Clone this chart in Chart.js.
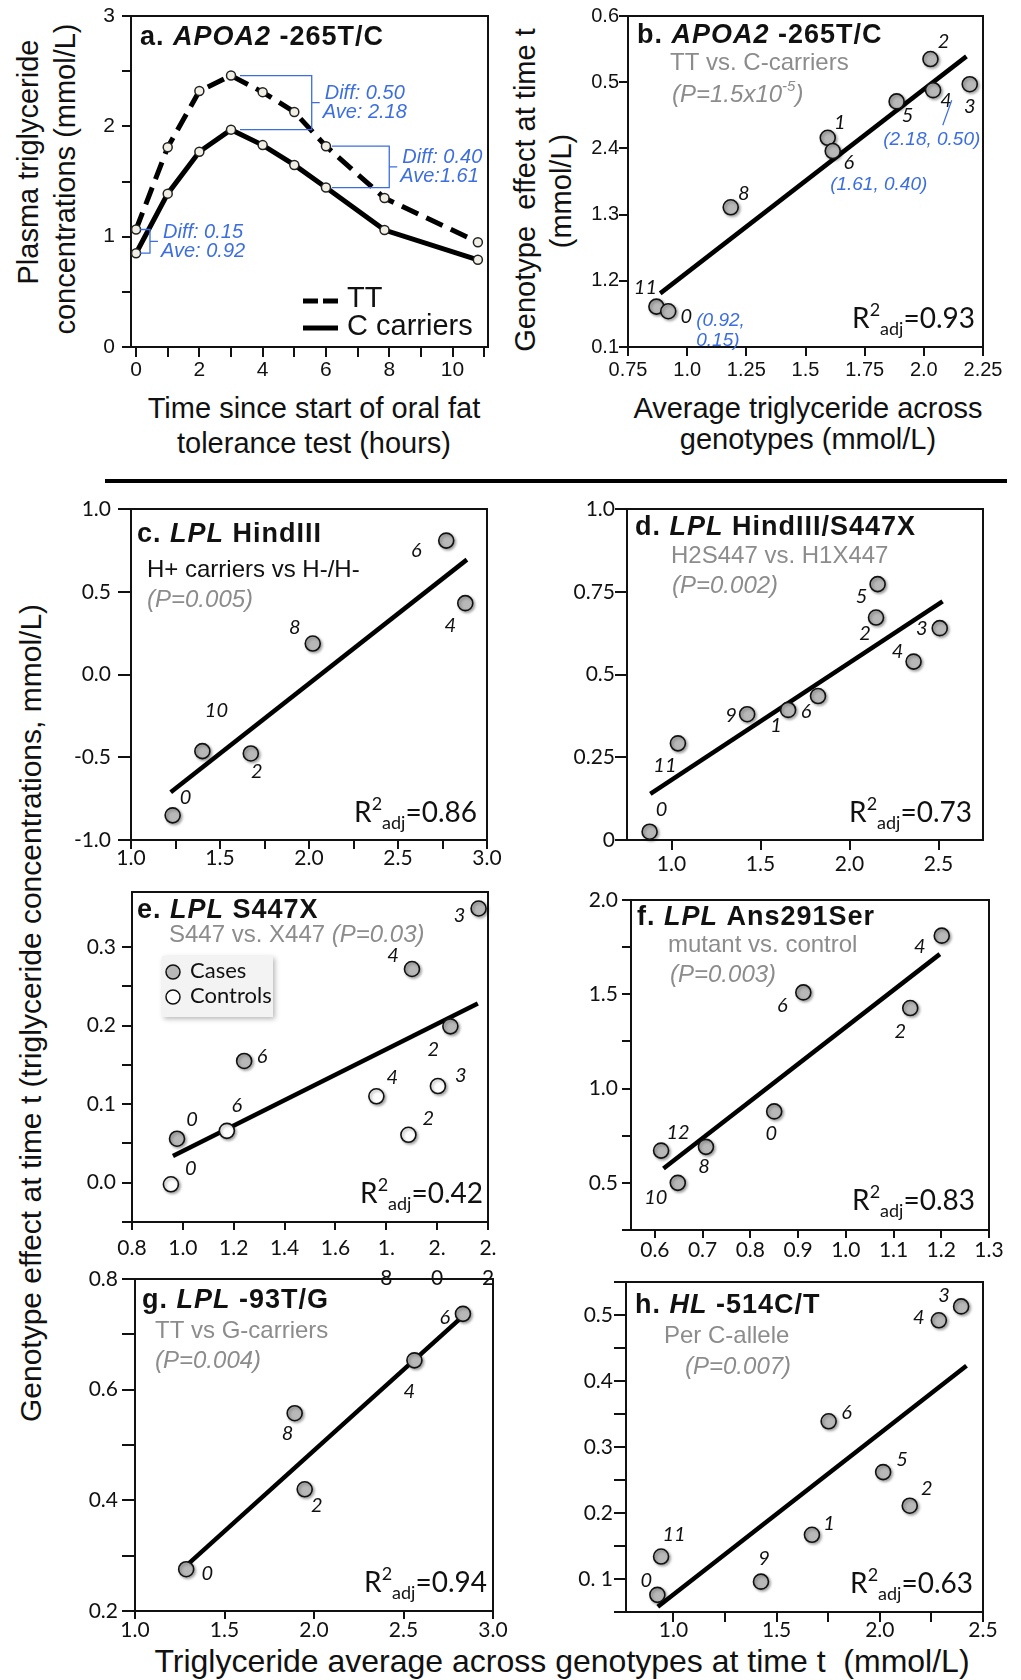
<!DOCTYPE html>
<html>
<head>
<meta charset="utf-8">
<title>Genotype effects on postprandial triglyceride</title>
<script src="https://cdn.jsdelivr.net/npm/chart.js@4.4.1/dist/chart.umd.min.js"></script>
<style>
  html, body { margin: 0; padding: 0; background: #fff; }
  #page { position: relative; width: 1021px; height: 1680px; overflow: hidden; background: #fff; }
  #page canvas { position: absolute; }
  .axis-title { position: absolute; white-space: pre; line-height: 1; color: #111;
    font-family: "Liberation Sans", Arial, sans-serif; font-size: 29px; transform: translate(-50%, -50%); }
  .axis-title.vert { transform: translate(-50%, -50%) rotate(-90deg); }
  .rule { position: absolute; left: 105px; top: 479px; width: 902px; height: 4px; background: #000; }
</style>
</head>
<body>
<div id="page">
  <div class="axis-title vert" style="left:28px;top:162px">Plasma triglyceride</div>
  <div class="axis-title vert" style="left:65px;top:179px">concentrations (mmol/L)</div>
  <div class="axis-title" style="left:314px;top:408px">Time since start of oral fat</div>
  <div class="axis-title" style="left:314px;top:443px">tolerance test (hours)</div>
  <div class="axis-title vert" style="left:525px;top:190px">Genotype  effect at time t</div>
  <div class="axis-title vert" style="left:561px;top:191px">(mmol/L)</div>
  <div class="axis-title" style="left:808px;top:408px">Average triglyceride across</div>
  <div class="axis-title" style="left:808px;top:439px">genotypes (mmol/L)</div>
  <div class="rule"></div>
  <div class="axis-title vert" style="left:31px;top:1013px;font-size:30px">Genotype effect at time t (triglyceride concentrations, mmol/L)</div>
  <div class="axis-title" style="left:562px;top:1661px;font-size:32px">Triglyceride average across genotypes at time t  (mmol/L)</div>
</div>
<script>
// ---------- a. APOA2 -265T/C : triglyceride over the fat tolerance test ----------
const aHours = [0, 1, 2, 3, 4, 5, 6, 7.85, 10.8];
const aTT = [1.065, 1.81, 2.32, 2.46, 2.31, 2.13, 1.82, 1.35, 0.95];
const aC = [0.85, 1.39, 1.77, 1.97, 1.83, 1.65, 1.445, 1.06, 0.79];
const aSeries = ['TT', 'C carriers'];
const aXTicks = [0, 1, 2, 3, 4, 5, 6, 7, 8, 9, 10, 11];
const aXTickLabels = ['0', '', '2', '', '4', '', '6', '', '8', '', '10', ''];
const aYTicks = [0, 0.5, 1, 1.5, 2, 2.5, 3];
const aYTickLabels = ['0', '', '1', '', '2', '', '3'];
const aNoteIdx = [0, 3, 6];
const aDiff = ['Diff: 0.15', 'Diff: 0.50', 'Diff: 0.40'];
const aAve = ['Ave: 0.92', 'Ave: 2.18', 'Ave:1.61'];

// ---------- b. APOA2 genotype effect vs average ----------
const bHour = ['11', '0', '8', '1', '6', '5', '2', '4', '3'];
const bAvg = [0.87, 0.92, 1.184, 1.594, 1.615, 1.885, 2.028, 2.039, 2.194];
const bEffect = [0.161, 0.154, 0.311, 0.416, 0.396, 0.471, 0.535, 0.488, 0.497];
const bFitX = [0.886, 2.18];
const bFitY = [0.181, 0.539];
const bXTicks = [0.75, 1, 1.25, 1.5, 1.75, 2, 2.25];
const bXTickLabels = ['0.75', '1.0', '1.25', '1.5', '1.75', '2.0', '2.25'];
const bYTicks = [0.1, 0.2, 0.3, 0.4, 0.5, 0.6];
const bYTickLabels = ['0.1', '1.2', '1.3', '2.4', '0.5', '0.6'];
const bNotes = ['(0.92,', '0.15)', '(1.61, 0.40)', '(2.18, 0.50)'];

// ---------- c. LPL HindIII ----------
const cHour = ['0', '10', '2', '8', '6', '4'];
const cAvg = [1.234, 1.401, 1.673, 2.021, 2.771, 2.878];
const cEffect = [-0.851, -0.463, -0.477, 0.187, 0.809, 0.431];
const cFitX = [1.223, 2.887];
const cFitY = [-0.712, 0.694];
const cXTicks = [1, 1.25, 1.5, 1.75, 2, 2.25, 2.5, 2.75, 3];
const cXTickLabels = ['1.0', '', '1.5', '', '2.0', '', '2.5', '', '3.0'];
const cYTicks = [-1, -0.5, 0, 0.5, 1];
const cYTickLabels = ['-1.0', '-0.5', '0.0', '0.5', '1.0'];

// ---------- d. LPL HindIII/S447X ----------
const dHour = ['0', '11', '9', '1', '6', '2', '5', '4', '3'];
const dAvg = [0.877, 1.036, 1.425, 1.655, 1.823, 2.149, 2.158, 2.36, 2.507];
const dEffect = [0.025, 0.292, 0.38, 0.393, 0.435, 0.672, 0.773, 0.539, 0.64];
const dFitX = [0.881, 2.523];
const dFitY = [0.139, 0.721];
const dXTicks = [1, 1.5, 2, 2.5];
const dXTickLabels = ['1.0', '1.5', '2.0', '2.5'];
const dYTicks = [0, 0.25, 0.5, 0.75, 1];
const dYTickLabels = ['0', '0.25', '0.5', '0.75', '1.0'];

// ---------- e. LPL S447X (cases and controls) ----------
const eGroups = ['Cases', 'Controls'];
const eCaseHour = ['0', '6', '4', '2', '3'];
const eCaseAvg = [0.977, 1.241, 1.901, 2.052, 2.163];
const eCaseEffect = [0.056, 0.155, 0.272, 0.199, 0.349];
const eCtrlHour = ['0', '6', '4', '2', '3'];
const eCtrlAvg = [0.953, 1.173, 1.761, 1.887, 2.003];
const eCtrlEffect = [-0.002, 0.066, 0.110, 0.061, 0.123];
const eFitX = [0.961, 2.16];
const eFitY = [0.034, 0.228];
const eXTicks = [0.8, 1, 1.2, 1.4, 1.6, 1.8, 2, 2.2];
const eXTickLabels = ['0.8', '1.0', '1.2', '1.4', '1.6', ['1.', '8'], ['2.', '0'], ['2.', '2']];
const eYTicks = [-0.05, 0, 0.05, 0.1, 0.15, 0.2, 0.25, 0.3];
const eYTickLabels = ['', '0.0', '', '0.1', '', '0.2', '', '0.3'];

// ---------- f. LPL Ans291Ser ----------
const fHour = ['12', '10', '8', '0', '6', '2', '4'];
const fAvg = [0.613, 0.648, 0.707, 0.850, 0.911, 1.135, 1.201];
const fEffect = [0.671, 0.5, 0.691, 0.879, 1.51, 1.427, 1.811];
const fFitX = [0.618, 1.197];
const fFitY = [0.576, 1.713];
const fXTicks = [0.6, 0.7, 0.8, 0.9, 1.0, 1.1, 1.2, 1.3];
const fXTickLabels = ['0.6', '0.7', '0.8', '0.9', '1.0', '1.1', '1.2', '1.3'];
const fYTicks = [0.25, 0.5, 0.75, 1, 1.25, 1.5, 1.75, 2];
const fYTickLabels = ['', '0.5', '', '1.0', '', '1.5', '', '2.0'];

// ---------- g. LPL -93T/G ----------
const gHour = ['0', '8', '2', '4', '6'];
const gAvg = [1.286, 1.892, 1.948, 2.561, 2.832];
const gEffect = [0.2755, 0.5575, 0.42, 0.653, 0.737];
const gFitX = [1.29, 2.832];
const gFitY = [0.283, 0.733];
const gXTicks = [1, 1.5, 2, 2.5, 3];
const gXTickLabels = ['1.0', '1.5', '2.0', '2.5', '3.0'];
const gYTicks = [0.2, 0.3, 0.4, 0.5, 0.6, 0.7, 0.8];
const gYTickLabels = ['0.2', '', '0.4', '', '0.6', '', '0.8'];

// ---------- h. HL -514C/T ----------
const hHour = ['0', '11', '9', '1', '6', '5', '2', '4', '3'];
const hAvg = [0.922, 0.94, 1.424, 1.671, 1.752, 2.016, 2.145, 2.286, 2.394];
const hEffect = [0.076, 0.134, 0.096, 0.167, 0.339, 0.262, 0.211, 0.492, 0.513];
const hFitX = [0.924, 2.42];
const hFitY = [0.058, 0.423];
const hXTicks = [1, 1.25, 1.5, 1.75, 2, 2.25, 2.5];
const hXTickLabels = ['1.0', '', '1.5', '', '2.0', '', '2.5'];
const hYTicks = [0.05, 0.1, 0.15, 0.2, 0.25, 0.3, 0.35, 0.4, 0.45, 0.5, 0.55];
const hYTickLabels = ['', '0. 1', '', '0.2', '', '0.3', '', '0.4', '', '0.5', ''];

// panel statistics
const r2 = { b: '0.93', c: '0.86', d: '0.73', e: '0.42', f: '0.83', g: '0.94', h: '0.63' };

// ---------- drawing ----------
const INK = '#111';
const GRAY = '#8c8c8c';
const BLUE = '#3c6ee0';
const DOT = '#b8b8b8';
const HELV = '"Liberation Sans", Arial, sans-serif';
const CAL = 'Lato, "Open Sans", sans-serif';
const PAD = { l: 100, t: 24, r: 34, b: 72 };
const page = document.getElementById('page');

function title(letter, gene, rest) {
    return [
        { t: letter + ' ', f: `bold 27px ${HELV}` },
        { t: gene, f: `italic bold 27px ${HELV}` },
        { t: rest, f: `bold 27px ${HELV}` },
    ];
}
const sub = (t, c) => [{ t, f: `24px ${HELV}`, c: c || GRAY }];
const pv = t => [{ t, f: `italic 24px ${HELV}`, c: GRAY }];
const r2Runs = v => [
    { t: 'R', f: `28px ${CAL}` },
    { t: '2', f: `18px ${CAL}`, dy: -12 },
    { t: 'adj', f: `18px ${CAL}`, dy: 7 },
    { t: '=' + v, f: `28px ${CAL}` },
];

function drawRuns(ctx, runs, x, y, align, base) {
    ctx.textAlign = 'left';
    ctx.textBaseline = base;
    let w = 0;
    runs.forEach(r => { ctx.font = r.f; w += ctx.measureText(r.t).width; });
    let cx = align === 'right' ? x - w : x;
    runs.forEach(r => {
        ctx.font = r.f;
        ctx.fillStyle = r.c || INK;
        ctx.fillText(r.t, cx, y + (r.dy || 0));
        cx += ctx.measureText(r.t).width;
    });
}

const xy = (xs, ys) => xs.map((x, i) => ({ x, y: ys[i] }));

function dots(xs, ys, fill) {
    return {
        data: xy(xs, ys), showLine: false, pointRadius: 7.5, pointBackgroundColor: fill,
        pointBorderColor: INK, pointBorderWidth: 1.6, clip: false, shadow: true, order: 0,
    };
}

function fitLine(xs, ys) {
    return {
        data: xy(xs, ys), showLine: true, borderColor: '#000', borderWidth: 4.5,
        pointRadius: 0, clip: false, order: 1,
    };
}

function makeAxis(id, a) {
    return {
        type: 'linear', min: a.min, max: a.max, bounds: 'data',
        afterBuildTicks: s => { s.ticks = a.ticks.map(v => ({ value: v })); },
        afterFit: s => {
            if (id === 'x') { s.height = PAD.b; s.paddingLeft = 0; s.paddingRight = 0; }
            else { s.width = PAD.l; s.paddingTop = 0; s.paddingBottom = 0; }
        },
        grid: { drawOnChartArea: false, drawTicks: true, tickLength: a.tl, color: INK, lineWidth: 2 },
        border: { display: false },
        ticks: {
            autoSkip: false, maxRotation: 0, minRotation: 0, padding: a.pad, color: INK,
            font: { family: a.fam || CAL, size: a.fs || 21, lineHeight: a.lh || 1 },
            callback: (v, i) => a.labels[i],
        },
    };
}

function decor(p) {
    return {
        id: 'decor',
        beforeDatasetsDraw(chart) {
            const { ctx, chartArea: ca } = chart;
            ctx.save();
            ctx.strokeStyle = INK;
            ctx.lineWidth = 2;
            ctx.strokeRect(ca.left, ca.top, ca.right - ca.left, ca.bottom - ca.top);
            ctx.restore();
        },
        beforeDatasetDraw(chart, args) {
            if (!chart.data.datasets[args.index].shadow) return;
            const ctx = chart.ctx;
            ctx.save();
            ctx.shadowColor = 'rgba(0,0,0,0.35)';
            ctx.shadowBlur = 3;
            ctx.shadowOffsetX = 1.5;
            ctx.shadowOffsetY = 1.5;
        },
        afterDatasetDraw(chart, args) {
            if (chart.data.datasets[args.index].shadow) chart.ctx.restore();
        },
        afterDatasetsDraw(chart) {
            const { ctx, chartArea: ca } = chart;
            ctx.save();
            ctx.letterSpacing = '1px';
            drawRuns(ctx, p.title, ca.left + p.titleAt[0], ca.top + p.titleAt[1], 'left', 'alphabetic');
            ctx.letterSpacing = '0px';
            (p.subs || []).forEach(s => drawRuns(ctx, s.runs, ca.left + s.at[0], ca.top + s.at[1], 'left', 'middle'));
            if (p.r2) drawRuns(ctx, r2Runs(p.r2), ca.right + p.r2At[0], ca.bottom + p.r2At[1], 'right', 'alphabetic');
            (p.labels || []).forEach(L => {
                const pts = chart.getDatasetMeta(L.ds).data;
                ctx.font = `italic 20px ${CAL}`;
                ctx.fillStyle = INK;
                ctx.textAlign = 'center';
                ctx.textBaseline = 'middle';
                L.text.forEach((t, i) => ctx.fillText(t, pts[i].x + L.off[i][0], pts[i].y + L.off[i][1]));
            });
            if (p.extra) p.extra(chart, ctx);
            ctx.restore();
        },
    };
}

function buildPanel(p) {
    const [l, t, r, b] = p.box;
    const cv = document.createElement('canvas');
    cv.width = r - l + PAD.l + PAD.r;
    cv.height = b - t + PAD.t + PAD.b;
    cv.style.left = (l - PAD.l) + 'px';
    cv.style.top = (t - PAD.t) + 'px';
    page.appendChild(cv);
    return new Chart(cv, {
        type: 'scatter',
        data: { datasets: p.datasets },
        options: {
            responsive: false, animation: false, devicePixelRatio: 1, events: [],
            layout: { autoPadding: false, padding: { left: 0, top: PAD.t, right: PAD.r, bottom: 0 } },
            plugins: { legend: { display: false }, tooltip: { enabled: false } },
            scales: { x: makeAxis('x', p.x), y: makeAxis('y', p.y) },
        },
        plugins: [decor(p)],
    });
}

// bracket geometry for the Diff/Ave notes of panel a (hours of the vertical bar, gap from point)
const A_NOTE = { at: [0.44, 5.55, 8.0], gap: [4, 9, 6] };

function panelAExtras(chart, ctx) {
    const xs = chart.scales.x, ys = chart.scales.y, ca = chart.chartArea;
    ctx.strokeStyle = BLUE;
    ctx.fillStyle = BLUE;
    ctx.lineWidth = 1.3;
    ctx.font = `italic 20px ${HELV}`;
    ctx.textAlign = 'left';
    ctx.textBaseline = 'middle';
    aNoteIdx.forEach((k, j) => {
        const x0 = xs.getPixelForValue(aHours[k]) + A_NOTE.gap[j];
        const xv = xs.getPixelForValue(A_NOTE.at[j]);
        const y1 = ys.getPixelForValue(aTT[k]);
        const y2 = ys.getPixelForValue(aC[k]);
        const ym = (y1 + y2) / 2;
        ctx.beginPath();
        ctx.moveTo(x0, y1); ctx.lineTo(xv, y1); ctx.lineTo(xv, y2); ctx.lineTo(x0, y2);
        ctx.moveTo(xv, ym); ctx.lineTo(xv + 8, ym);
        ctx.stroke();
        ctx.fillText(aDiff[j], xv + 13, ym - 9);
        ctx.fillText(aAve[j], xv + 11, ym + 10);
    });
    // legend
    ctx.strokeStyle = '#000';
    ctx.lineWidth = 5;
    ctx.setLineDash([15, 5]);
    ctx.beginPath(); ctx.moveTo(ca.left + 172, ca.top + 285); ctx.lineTo(ca.left + 207, ca.top + 285); ctx.stroke();
    ctx.setLineDash([]);
    ctx.beginPath(); ctx.moveTo(ca.left + 172, ca.top + 312); ctx.lineTo(ca.left + 207, ca.top + 312); ctx.stroke();
    ctx.fillStyle = INK;
    ctx.font = `29px ${HELV}`;
    ctx.textBaseline = 'alphabetic';
    ctx.fillText(aSeries[0], ca.left + 216, ca.top + 291);
    ctx.fillText(aSeries[1], ca.left + 216, ca.top + 319);
}

const B_NOTE = [
    { idx: 1, off: [28, 9], align: 'left' },
    { idx: 1, off: [28, 29], align: 'left' },
    { idx: 4, off: [46, 34], align: 'center' },
    { idx: 8, off: [-38, 56], align: 'center' },
];

function panelBExtras(chart, ctx) {
    const pts = chart.getDatasetMeta(0).data;
    ctx.fillStyle = BLUE;
    ctx.strokeStyle = BLUE;
    ctx.lineWidth = 1.2;
    ctx.font = `italic 19px ${HELV}`;
    ctx.textBaseline = 'middle';
    B_NOTE.forEach((n, j) => {
        ctx.textAlign = n.align;
        ctx.fillText(bNotes[j], pts[n.idx].x + n.off[0], pts[n.idx].y + n.off[1]);
    });
    const p3 = pts[8];
    ctx.beginPath();
    ctx.moveTo(p3.x - 27, p3.y + 41);
    ctx.lineTo(p3.x - 18, p3.y + 16);
    ctx.stroke();
}

function panelEExtras(chart, ctx) {
    const L = chart.chartArea.left, T = chart.chartArea.top;
    ctx.save();
    ctx.shadowColor = 'rgba(0,0,0,0.28)';
    ctx.shadowBlur = 5;
    ctx.shadowOffsetX = 2;
    ctx.shadowOffsetY = 2;
    ctx.fillStyle = '#f3f3f3';
    ctx.fillRect(L + 30, T + 64, 111, 61);
    ctx.restore();
    [DOT, '#ffffff'].forEach((fill, i) => {
        const cy = T + 80 + i * 25;
        ctx.beginPath();
        ctx.arc(L + 41, cy, 7, 0, Math.PI * 2);
        ctx.fillStyle = fill;
        ctx.fill();
        ctx.strokeStyle = INK;
        ctx.lineWidth = 1.5;
        ctx.stroke();
        ctx.fillStyle = INK;
        ctx.font = `22px ${CAL}`;
        ctx.textAlign = 'left';
        ctx.textBaseline = 'middle';
        ctx.fillText(eGroups[i], L + 58, cy - 1);
    });
}

const timeLine = (ys, dash) => ({
    data: xy(aHours, ys), showLine: true, borderColor: '#000', borderWidth: 5, borderDash: dash,
    pointRadius: 4.5, pointBackgroundColor: '#f1efe4', pointBorderColor: '#222', pointBorderWidth: 1.5,
    clip: false,
});

const panels = [
    {
        box: [131, 16, 488, 347],
        x: { min: -0.16, max: 11.12, ticks: aXTicks, labels: aXTickLabels, tl: 10, pad: 3, fs: 21, fam: HELV },
        y: { min: 0, max: 3, ticks: aYTicks, labels: aYTickLabels, tl: 9, pad: 7, fs: 21, fam: HELV },
        datasets: [timeLine(aTT, [18, 9]), timeLine(aC, [])],
        title: title('a.', 'APOA2', ' -265T/C'), titleAt: [9, 29],
        extra: panelAExtras,
    },
    {
        box: [628, 16, 983, 347],
        x: { min: 0.75, max: 2.25, ticks: bXTicks, labels: bXTickLabels, tl: 9, pad: 4, fs: 20, fam: HELV },
        y: { min: 0.1, max: 0.6, ticks: bYTicks, labels: bYTickLabels, tl: 9, pad: 0, fs: 20, fam: HELV },
        datasets: [dots(bAvg, bEffect, DOT), fitLine(bFitX, bFitY)],
        title: title('b.', 'APOA2', ' -265T/C'), titleAt: [9, 27],
        subs: [
            { runs: sub('TT vs. C-carriers'), at: [42, 47] },
            { runs: [
                { t: '(P=1.5x10', f: `italic 24px ${HELV}`, c: GRAY },
                { t: '-5', f: `italic 15px ${HELV}`, c: GRAY, dy: -8 },
                { t: ')', f: `italic 24px ${HELV}`, c: GRAY },
            ], at: [44, 79] },
        ],
        r2: r2.b, r2At: [-8, -19],
        labels: [{ ds: 0, text: bHour, off: [[-11, -19], [18, 5], [13, -14], [12, -15], [16, 11], [11, 14], [13, -17], [13, 10], [0, 22]] }],
        extra: panelBExtras,
    },
    {
        box: [131, 509, 487, 840],
        x: { min: 1, max: 3, ticks: cXTicks, labels: cXTickLabels, tl: 9, pad: -1 },
        y: { min: -1, max: 1, ticks: cYTicks, labels: cYTickLabels, tl: 13, pad: 7 },
        datasets: [dots(cAvg, cEffect, DOT), fitLine(cFitX, cFitY)],
        title: title('c.', 'LPL', ' HindIII'), titleAt: [6, 33],
        subs: [
            { runs: sub('H+ carriers vs H-/H-', INK), at: [16, 61] },
            { runs: pv('(P=0.005)'), at: [16, 91] },
        ],
        r2: r2.c, r2At: [-10, -18],
        labels: [{ ds: 0, text: cHour, off: [[13, -18], [14, -41], [6, 18], [-18, -16], [-30, 10], [-15, 22]] }],
    },
    {
        box: [627, 509, 983, 840],
        x: { min: 0.75, max: 2.75, ticks: dXTicks, labels: dXTickLabels, tl: 10, pad: 4 },
        y: { min: 0, max: 1, ticks: dYTicks, labels: dYTickLabels, tl: 12, pad: 0 },
        datasets: [dots(dAvg, dEffect, DOT), fitLine(dFitX, dFitY)],
        title: title('d.', 'LPL', ' HindIII/S447X'), titleAt: [8, 26],
        subs: [
            { runs: sub('H2S447 vs. H1X447'), at: [44, 47] },
            { runs: pv('(P=0.002)'), at: [45, 77] },
        ],
        r2: r2.d, r2At: [-11, -18],
        labels: [{ ds: 0, text: dHour, off: [[12, -22], [-13, 22], [-16, 1], [-12, 16], [-12, 16], [-11, 16], [-16, 12], [-16, -10], [-18, 0]] }],
    },
    {
        box: [132, 892, 488, 1222],
        x: { min: 0.8, max: 2.2, ticks: eXTicks, labels: eXTickLabels, tl: 8, pad: 3, lh: 1.45 },
        y: { min: -0.05, max: 0.37, ticks: eYTicks, labels: eYTickLabels, tl: 10, pad: 6 },
        datasets: [dots(eCaseAvg, eCaseEffect, DOT), dots(eCtrlAvg, eCtrlEffect, '#ffffff'), fitLine(eFitX, eFitY)],
        title: title('e.', 'LPL', ' S447X'), titleAt: [5, 26],
        subs: [
            { runs: sub('S447 vs. X447 ').concat(pv('(P=0.03)')), at: [37, 43] },
        ],
        r2: r2.e, r2At: [-5, -19],
        labels: [
            { ds: 0, text: eCaseHour, off: [[15, -19], [18, -4], [-19, -13], [-17, 23], [-19, 7]] },
            { ds: 1, text: eCtrlHour, off: [[20, -16], [10, -25], [16, -19], [20, -16], [23, -11]] },
        ],
        extra: panelEExtras,
    },
    {
        box: [631, 900, 989, 1230],
        x: { min: 0.55, max: 1.3, ticks: fXTicks, labels: fXTickLabels, tl: 8, pad: 2 },
        y: { min: 0.25, max: 2, ticks: fYTicks, labels: fYTickLabels, tl: 9, pad: 4 },
        datasets: [dots(fAvg, fEffect, DOT), fitLine(fFitX, fFitY)],
        title: title('f.', 'LPL', ' Ans291Ser'), titleAt: [6, 25],
        subs: [
            { runs: sub('mutant vs. control'), at: [37, 45] },
            { runs: pv('(P=0.003)'), at: [39, 75] },
        ],
        r2: r2.f, r2At: [-14, -20],
        labels: [{ ds: 0, text: fHour, off: [[17, -18], [-22, 15], [-2, 20], [-3, 22], [-21, 13], [-10, 23], [-22, 11]] }],
    },
    {
        box: [135, 1279, 493, 1611],
        x: { min: 1, max: 3, ticks: gXTicks, labels: gXTickLabels, tl: 8, pad: 1 },
        y: { min: 0.2, max: 0.8, ticks: gYTicks, labels: gYTickLabels, tl: 13, pad: 4 },
        datasets: [dots(gAvg, gEffect, DOT), fitLine(gFitX, gFitY)],
        title: title('g.', 'LPL', ' -93T/G'), titleAt: [7, 29],
        subs: [
            { runs: sub('TT vs G-carriers'), at: [20, 52] },
            { runs: pv('(P=0.004)'), at: [20, 82] },
        ],
        r2: r2.g, r2At: [-6, -19],
        labels: [{ ds: 0, text: gHour, off: [[21, 4], [-7, 20], [12, 16], [-5, 31], [-18, 4]] }],
    },
    {
        box: [626, 1282, 983, 1612],
        x: { min: 0.77, max: 2.5, ticks: hXTicks, labels: hXTickLabels, tl: 10, pad: -2 },
        y: { min: 0.05, max: 0.55, ticks: hYTicks, labels: hYTickLabels, tl: 12, pad: 1 },
        datasets: [dots(hAvg, hEffect, DOT), fitLine(hFitX, hFitY)],
        title: title('h.', 'HL', ' -514C/T'), titleAt: [9, 31],
        subs: [
            { runs: sub('Per C-allele'), at: [38, 54] },
            { runs: pv('(P=0.007)'), at: [59, 85] },
        ],
        r2: r2.h, r2At: [-10, -19],
        labels: [{ ds: 0, text: hHour, off: [[-11, -14], [13, -22], [3, -23], [17, -11], [18, -9], [19, -13], [17, -17], [-20, -3], [-17, -11]] }],
    },
];

panels.forEach(buildPanel);
</script>
</body>
</html>
